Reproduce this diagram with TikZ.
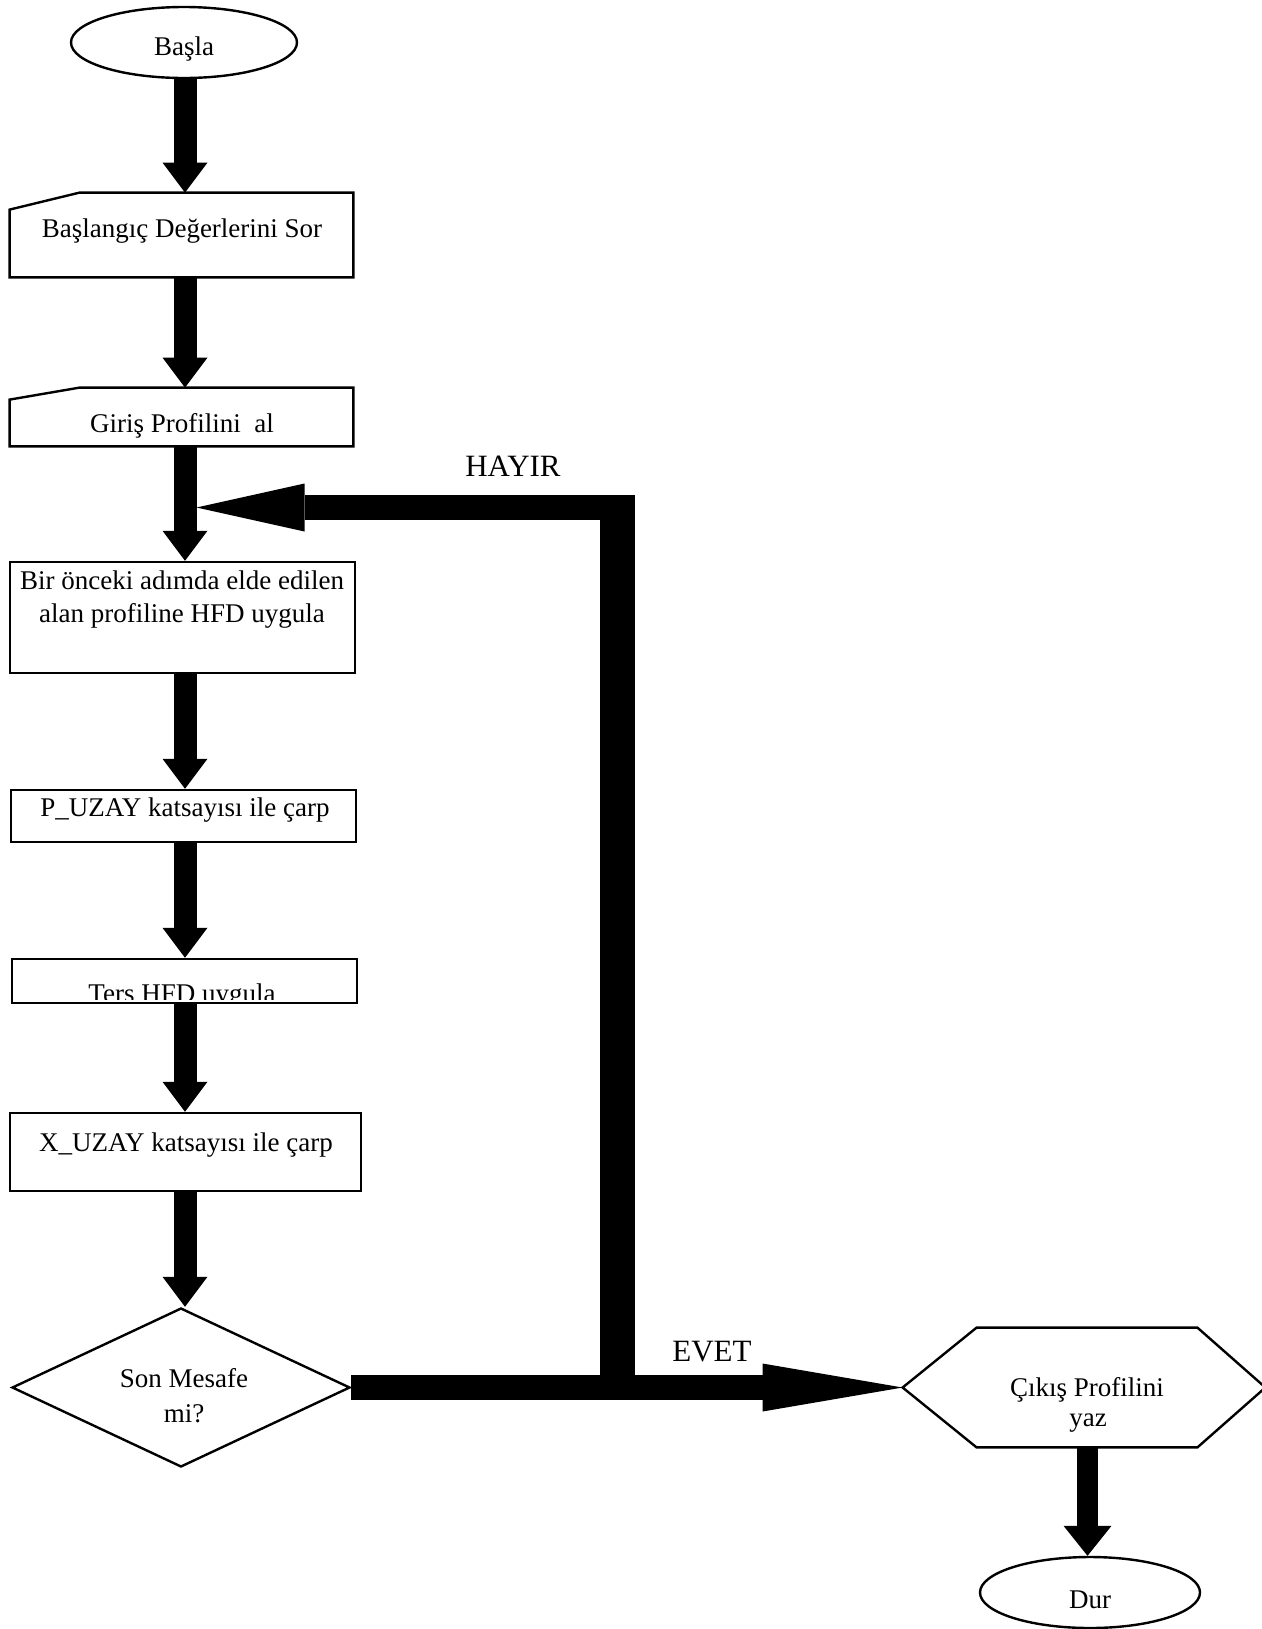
\documentclass[tikz,border=0pt]{standalone}
\usepackage{fontspec}
\setmainfont{Liberation Serif}
\usetikzlibrary{calc,shapes.geometric}
\newcommand{\blockdown}[4]{%
  \fill[blk] ($(#1)+(-#3,0)$) rectangle ($(#2)+(#3,-30)$);
  \fill[blk] ($(#2)+(-#4,-30)$) -- ($(#2)+(#4,-30)$) -- (#2) -- cycle;}
\begin{document}
\begin{tikzpicture}[x=0.5pt,y=-0.5pt,
  txt/.style={font=\fontsize{13.5pt}{16pt}\selectfont,inner sep=0pt,anchor=base},
  lbl/.style={font=\fontsize{15.5pt}{18pt}\selectfont,inner sep=0pt,anchor=base},
  shapebox/.style={draw=black,line width=1.2pt,inner sep=0pt},
  ghost/.style={draw=none,inner sep=0pt,rectangle},
  outline/.style={draw=black,line width=1.2pt,line join=miter},
  blk/.style={fill=black}]
\useasboundingbox (0,0) rectangle (1262,1629);

% ---- shapes
\node[shapebox,ellipse,minimum width=113pt,minimum height=35.5pt] (start) at (184,42.5) {};
\node[ghost,minimum width=171.5pt,minimum height=42pt] (in1) at (181.5,235) {};
\node[ghost,minimum width=171.5pt,minimum height=29pt] (in2) at (181.5,417) {};
\node[shapebox,rectangle,minimum width=172.5pt,minimum height=55.5pt] (hfd) at (182.5,617.5) {};
\node[shapebox,rectangle,minimum width=172.5pt,minimum height=26pt] (puzay) at (183.5,816) {};
\node[shapebox,rectangle,minimum width=172.5pt,minimum height=22pt] (ters) at (184.5,981) {};
\node[shapebox,rectangle,minimum width=175.5pt,minimum height=39pt] (xuzay) at (185.5,1152) {};
\node[shapebox,diamond,minimum width=169pt,minimum height=79.5pt] (dia) at (181,1387.5) {};
\node[ghost,minimum width=181pt,minimum height=59.5pt] (hex) at (1084,1387.5) {};
\node[shapebox,ellipse,minimum width=110pt,minimum height=35.5pt] (stop) at (1090,1592.5) {};

\draw[outline] (in1.south west) -- ($(in1.north west)+(0,17)$) -- ($(in1.north west)+(70,0)$) -- (in1.north east) -- (in1.south east) -- cycle;
\draw[outline] (in2.south west) -- ($(in2.north west)+(0,12)$) -- ($(in2.north west)+(70,0)$) -- (in2.north east) -- (in2.south east) -- cycle;
\draw[outline] (hex.west) -- ($(hex.north west)+(74,0)$) -- ($(hex.north east)+(-68,0)$) -- (hex.east) -- ($(hex.south east)+(-68,0)$) -- ($(hex.south west)+(74,0)$) -- cycle;

% ---- texts
\node[txt] (tstart) at (184,55) {Başla};
\node[txt] (tin1) at (182,237) {Başlangıç Değerlerini Sor};
\node[txt] (tin2) at (182,432) {Giriş Profilini\ \ al};
\node[txt] (thfd1) at (182,589) {Bir önceki adımda elde edilen};
\node[txt] (thfd2) at (182,622) {alan profiline HFD uygula};
\node[txt] (tpuzay) at (185,816) {P\_UZAY katsayısı ile çarp};
\begin{scope}
  \clip ($(ters.north west)+(0,2)$) rectangle ($(ters.south east)+(0,-5)$);
  \node[txt] (tters) at (182,1002) {Ters HFD uygula};
\end{scope}
\node[txt] (txuzay) at (186,1151) {X\_UZAY katsayısı ile çarp};
\node[txt] (tdia1) at (184,1387) {Son Mesafe};
\node[txt] (tdia2) at (184,1422) {mi?};
\node[lbl] (hayir) at (513,476) {HAYIR};
\node[lbl] (evet) at (712,1361) {EVET};
\node[txt] (thex1) at (1087,1396) {Çıkış Profilini};
\node[txt] (thex2) at (1088,1426) {yaz};
\node[txt] (tstop) at (1090,1608) {Dur};

% ---- block arrows
\coordinate (col) at (185,0);
\coordinate (col2) at (1087.5,0);
\path (start.south -| col) coordinate (a1a) (in1.north -| col) coordinate (a1b);
\path (in1.south -| col) coordinate (a2a) (in2.north -| col) coordinate (a2b);
\path (in2.south -| col) coordinate (a3a) (hfd.north -| col) coordinate (a3b);
\path (hfd.south -| col) coordinate (a4a) (puzay.north -| col) coordinate (a4b);
\path (puzay.south -| col) coordinate (a5a) (ters.north -| col) coordinate (a5b);
\path (ters.south -| col) coordinate (a6a) (xuzay.north -| col) coordinate (a6b);
\path (xuzay.south -| col) coordinate (a7a) (dia.north -| col) coordinate (a7b);
\path (hex.south -| col2) coordinate (a8a) (stop.north -| col2) coordinate (a8b);
\blockdown{a1a}{a1b}{11.5}{22.5}
\blockdown{a2a}{a2b}{11.5}{22.5}
\blockdown{a3a}{a3b}{11.5}{22.5}
\blockdown{a4a}{a4b}{11.5}{22.5}
\blockdown{a5a}{a5b}{11.5}{22.5}
\blockdown{a6a}{a6b}{11.5}{22.5}
\blockdown{a7a}{a7b}{11.5}{22.5}
\blockdown{a8a}{a8b}{10.5}{24}

% ---- EVET arrow
\fill[blk] ($(dia.east)+(0,-12.5)$) rectangle ($(hex.west)+(-140,12.5)$);
\fill[blk] ($(hex.west)+(-140,-24)$) -- ($(hex.west)+(-140,24)$) -- (hex.west) -- cycle;

% ---- HAYIR loop
\coordinate (jn) at (617.5,1387.5);
\coordinate (corner) at (617.5,507.5);
\coordinate (loopin) at (196.5,507.5);
\fill[blk] ($(jn)+(-17.5,12.5)$) rectangle ($(corner)+(17.5,-12.5)$);
\fill[blk] ($(corner)+(17.5,-12.5)$) rectangle ($(loopin)+(108,12.5)$);
\fill[blk] ($(loopin)+(108,-24)$) -- ($(loopin)+(108,24)$) -- (loopin) -- cycle;
\end{tikzpicture}
\end{document}
